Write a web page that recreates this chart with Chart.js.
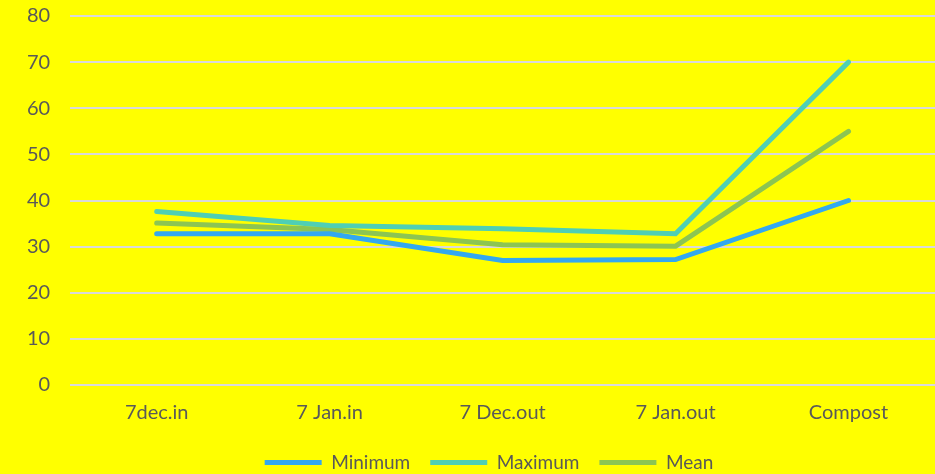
<!DOCTYPE html>
<html>
<head>
<meta charset="utf-8">
<script src="https://cdn.jsdelivr.net/npm/chart.js@4"></script>
<style>
  html, body { margin: 0; padding: 0; background: #FFFF00; overflow: hidden; }
  #wrap { width: 935px; height: 498px; margin-top: -16px; }
</style>
</head>
<body>
<div id="wrap"><canvas id="chart"></canvas></div>
<script>
const categories = ['7dec.in', '7 Jan.in', '7 Dec.out', '7 Jan.out', 'Compost'];
const minimum = [32.8, 32.8, 27.0, 27.2, 40.0];
const maximum = [37.6, 34.6, 33.9, 32.8, 70.0];
const mean = [35.1, 33.7, 30.4, 30.1, 55.0];
const yTicks = [0, 10, 20, 30, 40, 50, 60, 70, 80];

const textColor = '#595959';
const fontFamily = 'Lato, "Noto Sans", sans-serif';

function series(label, data, color) {
  return {
    label: label,
    data: data,
    borderColor: color,
    backgroundColor: color,
    borderWidth: 5,
    borderCapStyle: 'round',
    pointRadius: 0,
    tension: 0
  };
}

new Chart(document.getElementById('chart'), {
  type: 'line',
  data: {
    labels: categories,
    datasets: [
      series('Minimum', minimum, '#33A8F0'),
      series('Maximum', maximum, '#4FCFB4'),
      series('Mean', mean, '#8CC552')
    ]
  },
  options: {
    responsive: true,
    maintainAspectRatio: false,
    animation: false,
    layout: { padding: { top: 0, right: 0, left: 7, bottom: 0 } },
    scales: {
      x: {
        offset: true,
        grid: { display: false },
        border: { display: false },
        ticks: { color: textColor, font: { family: fontFamily, size: 20 }, padding: 8 }
      },
      y: {
        min: 0,
        max: 80,
        afterBuildTicks: axis => { axis.ticks = yTicks.map(v => ({ value: v })); },
        grid: { color: '#D9D9D9', lineWidth: 2, drawTicks: false },
        border: { display: false },
        ticks: { color: textColor, font: { family: fontFamily, size: 20 }, padding: 20 }
      }
    },
    plugins: {
      legend: {
        position: 'bottom',
        labels: {
          usePointStyle: true,
          pointStyle: 'line',
          pointStyleWidth: 57,
          boxHeight: 5,
          color: textColor,
          font: { family: fontFamily, size: 19 },
          padding: 20
        }
      },
      tooltip: { enabled: false }
    }
  },
  plugins: [{
    id: 'bg',
    beforeDraw: chart => {
      const ctx = chart.ctx;
      ctx.save();
      ctx.fillStyle = '#FFFF00';
      ctx.fillRect(0, 0, chart.width, chart.height);
      ctx.restore();
    },
    // legend sits a little right of centre in the original
    afterLayout: chart => {
      chart.legend.left += 18;
      chart.legend.right += 18;
    }
  }]
});
</script>
</body>
</html>
